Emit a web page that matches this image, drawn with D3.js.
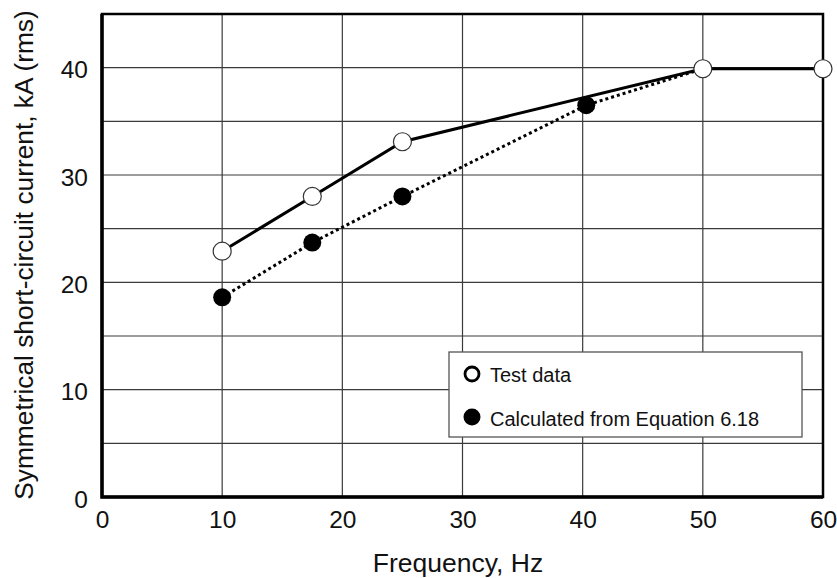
<!DOCTYPE html>
<html>
<head>
<meta charset="utf-8">
<script src="https://cdn.jsdelivr.net/npm/d3@7"></script>
<style>
  body { margin: 0; background: #fff; }
  svg { display: block; font-family: "Liberation Sans", Arial, Helvetica, sans-serif; }
  .grid line { stroke: #3a3a3a; stroke-width: 1.2; }
</style>
</head>
<body>
<svg width="837" height="578"></svg>
<script>
// test data (open circles, solid line)
var testFreq = [10, 17.5, 25, 50, 60];
var testCurrent = [22.9, 28, 33.1, 39.9, 39.9];

// calculated from Equation 6.18 (filled circles, dotted line)
var calcFreq = [10, 17.5, 25, 40.3, 50];
var calcCurrent = [18.6, 23.7, 28, 36.5, 39.9];

var xTicks = [0, 10, 20, 30, 40, 50, 60];
var yTicks = [0, 10, 20, 30, 40];
var yGrid = [5, 10, 15, 20, 25, 30, 35, 40];

var svg = d3.select("svg");
var margin = {left: 102, right: 14, top: 14, bottom: 81};
var width = +svg.attr("width") - margin.left - margin.right,
    height = +svg.attr("height") - margin.top - margin.bottom;

var x = d3.scaleLinear().domain([0, 60]).range([0, width]);
var y = d3.scaleLinear().domain([0, 45]).range([height, 0]);

var g = svg.append("g").attr("transform", "translate(" + margin.left + "," + margin.top + ")");

// grid
var grid = g.append("g").attr("class", "grid");
grid.selectAll("line.v")
    .data(xTicks.slice(1, -1))
    .enter().append("line")
    .attr("x1", function(d) { return x(d); })
    .attr("x2", function(d) { return x(d); })
    .attr("y1", 0)
    .attr("y2", height);
grid.selectAll("line.h")
    .data(yGrid)
    .enter().append("line")
    .attr("x1", 0)
    .attr("x2", width)
    .attr("y1", function(d) { return y(d); })
    .attr("y2", function(d) { return y(d); });

// frame
g.append("rect")
    .attr("width", width)
    .attr("height", height)
    .attr("fill", "none")
    .attr("stroke", "#000")
    .attr("stroke-width", 2.5);
g.append("path")
    .attr("d", "M0,0V" + height + "H" + width)
    .attr("fill", "none")
    .attr("stroke", "#000")
    .attr("stroke-width", 3.5);

// axes (labels only, via d3 axis)
var xAxis = g.append("g")
    .attr("transform", "translate(0," + height + ")")
    .call(d3.axisBottom(x).tickValues(xTicks).tickSize(0).tickPadding(14));
var yAxis = g.append("g")
    .call(d3.axisLeft(y).tickValues(yTicks).tickSize(0).tickPadding(14));
[xAxis, yAxis].forEach(function(a) {
    a.select(".domain").remove();
    a.selectAll("text")
        .attr("font-family", "'Liberation Sans', Arial, sans-serif")
        .attr("font-size", 24.5)
        .attr("fill", "#111");
});
yAxis.selectAll("text").attr("dy", "0.42em");

// lines
var testPts = testFreq.map(function(f, i) { return [f, testCurrent[i]]; });
var calcPts = calcFreq.map(function(f, i) { return [f, calcCurrent[i]]; });
var line = d3.line()
    .x(function(d) { return x(d[0]); })
    .y(function(d) { return y(d[1]); });

g.append("path")
    .datum(calcPts)
    .attr("d", line)
    .attr("fill", "none")
    .attr("stroke", "#000")
    .attr("stroke-width", 3)
    .attr("stroke-dasharray", "3,3");

g.append("path")
    .datum(testPts)
    .attr("d", line)
    .attr("fill", "none")
    .attr("stroke", "#000")
    .attr("stroke-width", 3);

g.selectAll("circle.calc")
    .data(calcPts)
    .enter().append("circle")
    .attr("class", "calc")
    .attr("cx", function(d) { return x(d[0]); })
    .attr("cy", function(d) { return y(d[1]); })
    .attr("r", 9)
    .attr("fill", "#000");

g.selectAll("circle.test")
    .data(testPts)
    .enter().append("circle")
    .attr("class", "test")
    .attr("cx", function(d) { return x(d[0]); })
    .attr("cy", function(d) { return y(d[1]); })
    .attr("r", 9)
    .attr("fill", "#fff")
    .attr("stroke", "#333")
    .attr("stroke-width", 1.2);

// legend
var legend = svg.append("g").attr("transform", "translate(449,352)");
legend.append("rect")
    .attr("width", 353)
    .attr("height", 85)
    .attr("fill", "#fff")
    .attr("stroke", "#555")
    .attr("stroke-width", 1.3);
legend.append("circle")
    .attr("cx", 23).attr("cy", 22).attr("r", 7)
    .attr("fill", "#fff").attr("stroke", "#000").attr("stroke-width", 2.8);
legend.append("circle")
    .attr("cx", 23).attr("cy", 65).attr("r", 8.5)
    .attr("fill", "#000");
legend.append("text")
    .attr("x", 41).attr("y", 30)
    .attr("font-size", 20)
    .attr("fill", "#111")
    .text("Test data");
legend.append("text")
    .attr("x", 41).attr("y", 74)
    .attr("font-size", 20)
    .attr("fill", "#111")
    .text("Calculated from Equation 6.18");

// axis titles
svg.append("text")
    .attr("x", 458)
    .attr("y", 572)
    .attr("text-anchor", "middle")
    .attr("font-size", 26.5)
    .attr("fill", "#111")
    .text("Frequency, Hz");
svg.append("text")
    .attr("transform", "translate(33,255) rotate(-90)")
    .attr("text-anchor", "middle")
    .attr("font-size", 26.3)
    .attr("fill", "#111")
    .text("Symmetrical short-circuit current, kA (rms)");
</script>
</body>
</html>
